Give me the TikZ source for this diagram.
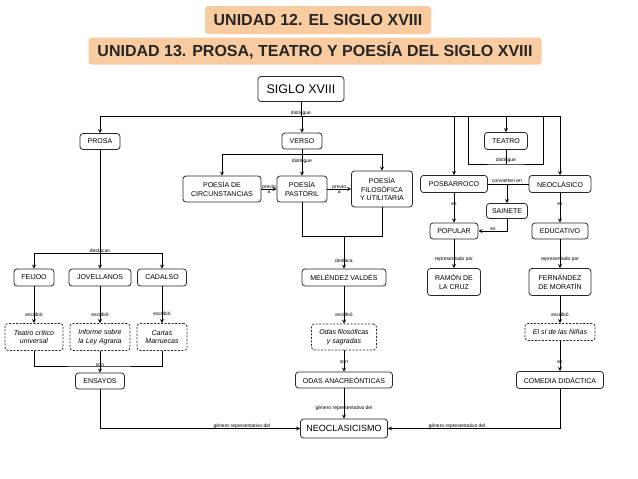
\documentclass[tikz,border=0pt]{standalone}
\usepackage{fontspec}
\setmainfont{Liberation Sans}
\definecolor{melocoton}{RGB}{248,204,160}

\begin{document}
\begin{tikzpicture}[x=1pt,y=-1pt,>=stealth,line width=0.8pt,
        caja/.style={draw=black!85,rounded corners=3pt,align=center,inner sep=1pt,
                     font=\fontsize{7}{8.5}\selectfont},
        obra/.style={caja,dash pattern=on 2pt off 1.5pt,font=\fontsize{7}{8.5}\selectfont\itshape},
        etiq/.style={inner sep=0.5pt,align=center,font=\fontsize{5}{5.5}\selectfont},
        titulo/.style={fill=melocoton,rounded corners=3pt,text=black!85,
                       font=\fontsize{16}{18}\selectfont\bfseries}]
                \useasboundingbox (0,0) rectangle (638,479);

                \node[titulo, minimum width=226, minimum height=28] (unidad12) at (318,20) {UNIDAD 12. EL SIGLO XVIII};
                \node[titulo, minimum width=453, minimum height=27] (unidad13) at (315,51) {UNIDAD 13. PROSA, TEATRO Y POESÍA DEL SIGLO XVIII};

                \node[caja, minimum width=86, minimum height=25, font=\fontsize{12.5}{14}\selectfont] (siglo) at (301,89) {SIGLO XVIII};

                \node[caja, minimum width=40, minimum height=16] (prosa) at (100,141.5) {PROSA};
                \node[caja, minimum width=40, minimum height=16] (verso) at (302,141) {VERSO};
                \node[caja, minimum width=43, minimum height=17] (teatro) at (506,141) {TEATRO};

                \node[caja, minimum width=78, minimum height=26] (circ) at (222,189) {POESÍA DE\\CIRCUNSTANCIAS};
                \node[caja, minimum width=50, minimum height=26] (pastoril) at (302,189) {POESÍA\\PASTORIL};
                \node[caja, minimum width=61, minimum height=36] (filosofica) at (382,189) {POESÍA\\FILOSÓFICA\\Y UTILITARIA};

                \node[caja, minimum width=67, minimum height=17] (posbarroco) at (454,184) {POSBARROCO};
                \node[caja, minimum width=62, minimum height=17] (neoclasico) at (560,184) {NEOCLÁSICO};
                \node[caja, minimum width=41, minimum height=15] (sainete) at (507,211) {SAINETE};
                \node[caja, minimum width=48, minimum height=16] (popular) at (454,231) {POPULAR};
                \node[caja, minimum width=56, minimum height=16] (educativo) at (560,231) {EDUCATIVO};
                \node[caja, minimum width=53, minimum height=27] (ramon) at (454,282) {RAMÓN DE\\LA CRUZ};
                \node[caja, minimum width=62, minimum height=27] (moratin) at (560,282) {FERNÁNDEZ\\DE MORATÍN};
                \node[obra, minimum width=70, minimum height=17] (ninas) at (560,332) {El sí de las Niñas};
                \node[caja, minimum width=87, minimum height=17] (comedia) at (560,380) {COMEDIA DIDÁCTICA};

                \node[caja, minimum width=84, minimum height=17] (melendez) at (344,277.5) {MELÉNDEZ VALDÉS};
                \node[obra, minimum width=65, minimum height=26] (odasfs) at (344,337) {Odas filosóficas\\y sagradas};
                \node[caja, minimum width=97, minimum height=16] (anacreonticas) at (344,380) {ODAS ANACREÓNTICAS};
                \node[caja, minimum width=87, minimum height=19, font=\fontsize{9}{10}\selectfont] (neoclasicismo) at (344,428.5) {NEOCLASICISMO};

                \node[caja, minimum width=40, minimum height=17] (feijoo) at (34,277.5) {FEIJOO};
                \node[caja, minimum width=62, minimum height=17] (jovellanos) at (100,277.5) {JOVELLANOS};
                \node[caja, minimum width=49, minimum height=17] (cadalso) at (162,277.5) {CADALSO};
                \node[obra, minimum width=58, minimum height=27] (teatrocritico) at (34,337) {Teatro crítico\\universal};
                \node[obra, minimum width=60, minimum height=27] (informe) at (100,337) {Informe sobre\\la Ley Agraria};
                \node[obra, minimum width=50, minimum height=27] (cartas) at (162,337) {Cartas\\Marruecas};
                \node[caja, minimum width=49, minimum height=16] (ensayos) at (100,381) {ENSAYOS};

                \coordinate (bus) at (301,116);
                \coordinate (tizq) at (468,116);
                \coordinate (tder) at (543,116);
                \coordinate (tbajo) at (506,164);
                \coordinate (vbus) at (302,154);
                \coordinate (mbus) at (344,236);
                \coordinate (pbus) at (100,253);
                \coordinate (sbus) at (100,366);
                \coordinate (cbus) at (507,184);

                \draw (siglo) -- (bus);
                \draw[->] (bus) -| (prosa);
                \draw[->] (bus -| verso) -- (verso);
                \draw[->] (bus) -| (posbarroco);
                \draw[->] (bus) -| (teatro);
                \draw[->] (bus) -| (neoclasico);
                \draw (teatro) -- (tbajo);
                \draw (tizq) |- (tbajo) -| (tder);
                \node[etiq] (dist1) at (301,113.5) {distingue};
                \node[etiq] (dist2) at (302,161) {distingue};
                \node[etiq] (dist3) at (506,160) {distingue};

                \draw (verso) -- (vbus);
                \draw[->] (vbus) -| (circ);
                \draw[->] (vbus) -- (pastoril);
                \draw[->] (vbus) -| (filosofica);
                \draw[->] (circ) -- (pastoril) node[etiq, midway] (previo1) {previo\\a};
                \draw[->] (pastoril) -- (filosofica) node[etiq, midway] (previo2) {previo\\a};

                \draw (pastoril) |- (mbus);
                \draw (filosofica) |- (mbus);
                \draw[->] (mbus) -- (melendez);
                \node[etiq] (destaca) at (344,261) {destaca};
                \draw[->] (melendez) -- (odasfs);
                \node[etiq] (escribio4) at (344,315) {escribió};
                \draw[->] (odasfs) -- (anacreonticas);
                \node[etiq] (son2) at (344,362) {son};
                \draw[->] (anacreonticas) -- (neoclasicismo);
                \node[etiq] (genero2) at (344,408) {género representativo del};

                \draw (prosa) -- (pbus);
                \draw[->] (pbus) -| (feijoo);
                \draw[->] (pbus) -- (jovellanos);
                \draw[->] (pbus) -| (cadalso);
                \node[etiq] (destacan) at (100,251) {destacan};
                \draw[->] (feijoo) -- (teatrocritico);
                \draw[->] (jovellanos) -- (informe);
                \draw[->] (cadalso) -- (cartas);
                \node[etiq] (escribio1) at (34,315) {escribió};
                \node[etiq] (escribio2) at (100,315) {escribió};
                \node[etiq] (escribio3) at (162,314) {escribió};
                \draw (teatrocritico) |- (sbus) -| (cartas);
                \draw[->] (informe) -- (ensayos);
                \node[etiq] (son1) at (100,365) {son};
                \draw[->] (ensayos) |- (neoclasicismo);
                \node[etiq] (genero1) at (242,426) {género representativo del};

                \draw (posbarroco) -- (neoclasico);
                \node[etiq] (convierten) at (507,181) {convierten en};
                \draw[->] (cbus) -- (sainete);
                \draw[->] (posbarroco) -- (popular);
                \draw[->] (neoclasico) -- (educativo);
                \node[etiq] (es1) at (454,204) {es};
                \node[etiq] (es2) at (560,204) {es};
                \draw[->] (sainete) |- (popular);
                \node[etiq] (es3) at (493,229) {es};
                \draw[->] (popular) -- (ramon);
                \draw[->] (educativo) -- (moratin);
                \node[etiq] (repr1) at (454,259) {representado por};
                \node[etiq] (repr2) at (560,259) {representado por};
                \draw[->] (moratin) -- (ninas);
                \node[etiq] (escribio5) at (560,315) {escribió};
                \draw[->] (ninas) -- (comedia);
                \node[etiq] (es4) at (560,362) {es};
                \draw[->] (comedia) |- (neoclasicismo);
                \node[etiq] (genero3) at (457,426) {género representativo del};
            \end{tikzpicture}
\end{document}
